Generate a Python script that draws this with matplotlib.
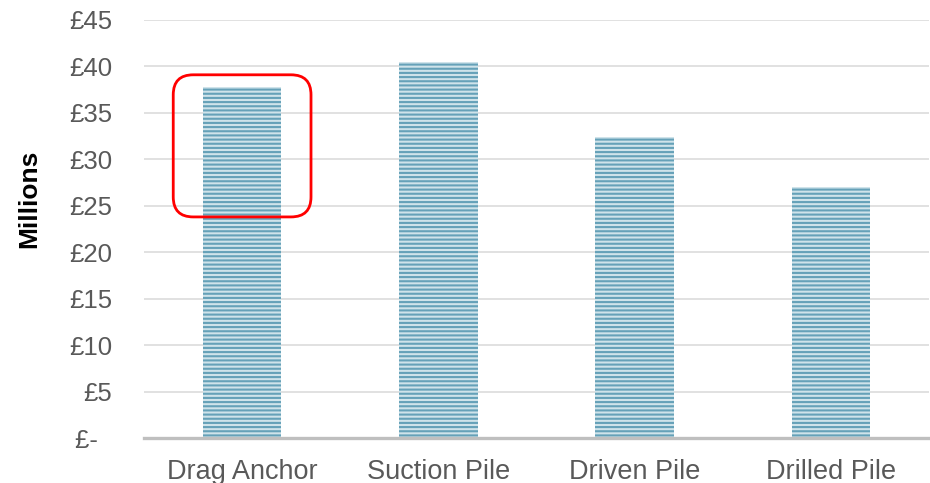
import matplotlib
matplotlib.use("Agg")
import matplotlib.pyplot as plt
from matplotlib.patches import FancyBboxPatch

categories = ["Drag Anchor", "Suction Pile", "Driven Pile", "Drilled Pile"]
costs_millions = [37.8, 40.5, 32.4, 27.0]
y_ticks = [0, 5, 10, 15, 20, 25, 30, 35, 40, 45]
y_tick_labels = ["£-  ", "£5", "£10", "£15", "£20", "£25", "£30", "£35", "£40", "£45"]

plt.rcParams["font.family"] = ["Liberation Sans", "DejaVu Sans"]
plt.rcParams["hatch.color"] = "#65a1b8"
plt.rcParams["hatch.linewidth"] = 1.5

fig = plt.figure(figsize=(9.3, 4.83), dpi=100)
ax = fig.add_axes([144 / 930, 45 / 483, 785 / 930, 418 / 483])

x = list(range(len(categories)))
ax.bar(x, costs_millions, width=0.4, color="#cfe3ea", edgecolor="#65a1b8",
       linewidth=0, hatch="----", zorder=3)

ax.set_xlim(-0.5, len(categories) - 0.5)
ax.set_ylim(0, 45)
ax.set_yticks(y_ticks)
ax.set_yticklabels(y_tick_labels)
ax.set_xticks(x)
ax.set_xticklabels(categories)

ax.tick_params(axis="y", length=0, pad=23, labelsize=18.5, labelcolor="#595959")
ax.tick_params(axis="x", length=0, pad=15, labelsize=19.5, labelcolor="#595959")

ax.grid(axis="y", color="#d9d9d9", linewidth=1.1, zorder=0)
ax.set_axisbelow(True)
for side in ("top", "right", "left"):
    ax.spines[side].set_visible(False)
ax.spines["bottom"].set_color("#bfbfbf")
ax.spines["bottom"].set_linewidth(2.4)
ax.spines["bottom"].set_zorder(4)

fig.text(29 / 930, 1 - 199 / 483, "Millions", rotation=90, fontsize=19,
         fontweight="bold", color="black", ha="center", va="center")

# Rounded red highlight around the top of the first bar
x_per_px = 1 / 196.5
y_per_px = 45 / 418
box = FancyBboxPatch((-0.351, 23.8), 0.702, 15.3,
                     boxstyle="round,pad=0,rounding_size=%f" % (20 * x_per_px),
                     mutation_aspect=y_per_px / x_per_px,
                     fill=False, edgecolor="#ff0000", linewidth=2.0,
                     zorder=5, clip_on=False)
ax.add_patch(box)

fig.savefig("out.png", dpi=100)
